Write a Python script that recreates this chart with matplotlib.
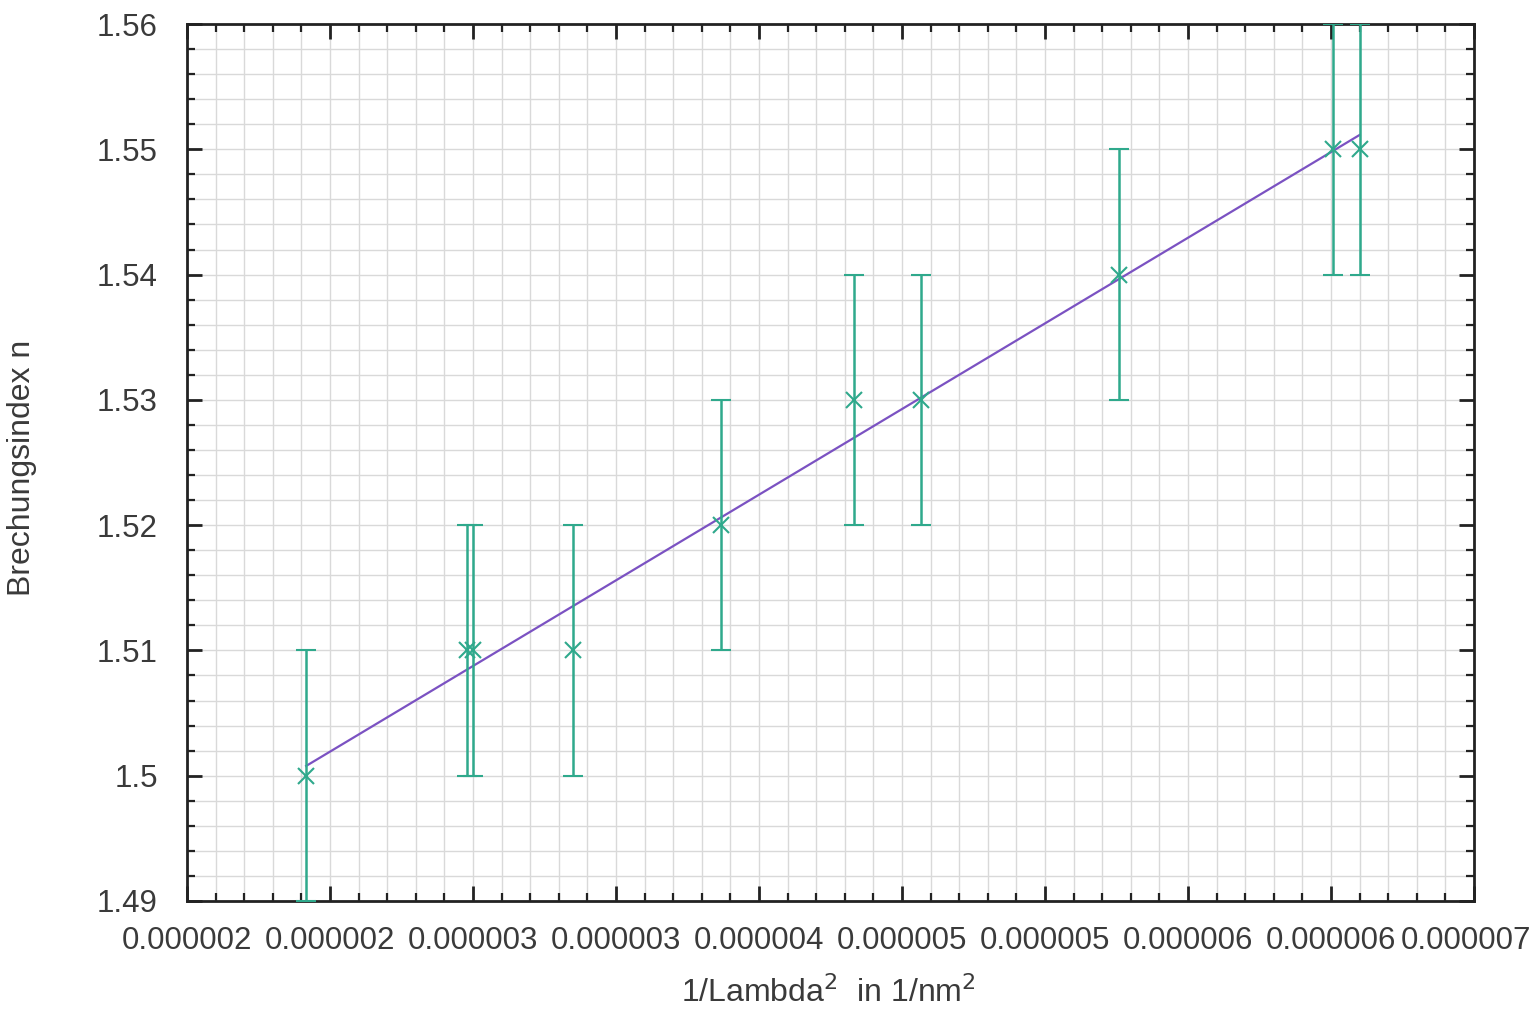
import matplotlib
matplotlib.use("Agg")
import matplotlib.pyplot as plt
import numpy as np
from matplotlib.ticker import FixedLocator, FuncFormatter, MultipleLocator
from matplotlib.transforms import ScaledTranslation

# 1/lambda^2 in 1/nm^2 and refractive index with its uncertainty
inv_lambda_sq = [2.10e-6, 2.775e-6, 2.80e-6, 3.22e-6, 3.84e-6,
                 4.40e-6, 4.68e-6, 5.51e-6, 6.41e-6, 6.52e-6]
n_values = [1.50, 1.51, 1.51, 1.51, 1.52, 1.53, 1.53, 1.54, 1.55, 1.55]
n_errors = [0.01] * 10

X_MIN, X_MAX, X_STEP = 1.6e-6, 7.0e-6, 0.6e-6
Y_MIN, Y_MAX, Y_STEP = 1.49, 1.56, 0.01

GREEN = "#2fa98c"
PURPLE = "#7b52c2"
TEXT = "#3a3a3a"

plt.rcParams["font.family"] = ["Liberation Sans", "DejaVu Sans"]

fig = plt.figure(figsize=(15.34, 10.11), dpi=100)
ax = fig.add_axes([187 / 1534, 110 / 1011, (1474 - 187) / 1534, (901 - 24) / 1011])

x = np.array(inv_lambda_sq)
y = np.array(n_values)
slope, intercept = np.polyfit(x, y, 1)
xf = np.linspace(x.min(), x.max(), 50)
ax.plot(xf, slope * xf + intercept, color=PURPLE, lw=1.6, zorder=3)

ax.errorbar(x, y, yerr=n_errors, fmt="x", color=GREEN, ecolor=GREEN,
            elinewidth=1.8, capsize=7, capthick=1.8, markersize=12,
            markeredgewidth=1.5, zorder=4)

ax.set_xlim(X_MIN, X_MAX)
ax.set_ylim(Y_MIN, Y_MAX)
n_major = int(round((X_MAX - X_MIN) / X_STEP))
ax.xaxis.set_major_locator(FixedLocator(X_MIN + X_STEP * np.arange(n_major + 1)))
ax.xaxis.set_minor_locator(FixedLocator(X_MIN + X_STEP / 5 * np.arange(5 * n_major + 1)))
ax.yaxis.set_major_locator(MultipleLocator(Y_STEP))
ax.yaxis.set_minor_locator(MultipleLocator(Y_STEP / 5))
ax.xaxis.set_major_formatter(FuncFormatter(lambda v, p: f"{v:.6f}"))
ax.yaxis.set_major_formatter(FuncFormatter(lambda v, p: f"{round(v, 2):g}"))

ax.grid(which="both", color="#d9d9d9", lw=1.0, zorder=0)
ax.set_axisbelow(True)
ax.tick_params(which="both", direction="in", top=True, right=True,
               colors="#222222", labelcolor=TEXT, labelsize=22.5)
ax.tick_params(which="major", length=11, width=2)
ax.tick_params(which="minor", length=6, width=1.6)
ax.tick_params(axis="x", pad=18)
ax.tick_params(axis="y", pad=21)
for s in ax.spines.values():
    s.set_linewidth(2)
    s.set_color("#222222")

# last x label sits right at the page edge, nudge it in a little
last = ax.xaxis.get_major_ticks()[-1].label1
last.set_transform(last.get_transform() + ScaledTranslation(-0.08, 0, fig.dpi_scale_trans))

fig.text(828 / 1534, 1 - 993 / 1011, "1/Lambda$^2$  in 1/nm$^2$", fontsize=23,
         color=TEXT, ha="center", va="center")
fig.text(22 / 1534, 1 - 468 / 1011, "Brechungsindex n", fontsize=23,
         color=TEXT, ha="center", va="center", rotation=90)

fig.savefig("out.png", dpi=100)
